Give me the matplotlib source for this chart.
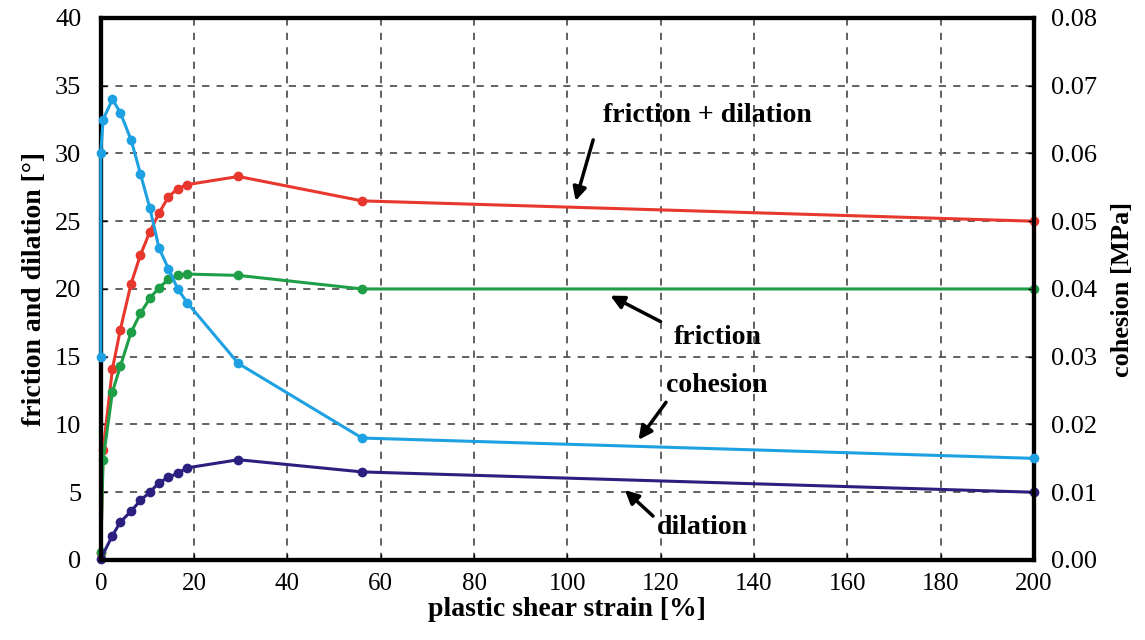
import numpy as np
import matplotlib.pyplot as plt

# plastic shear strain [%]
strain = [0, 0.5, 2.5, 4.2, 6.5, 8.5, 10.5, 12.5, 14.5, 16.5, 18.5, 29.5, 56, 200]

# friction + dilation [deg]
fric_dil = [0.5, 8.1, 14.1, 17.0, 20.4, 22.5, 24.2, 25.6, 26.8, 27.4, 27.7, 28.3, 26.5, 25.0]
# friction [deg]
friction = [0.6, 7.4, 12.4, 14.3, 16.8, 18.2, 19.3, 20.1, 20.7, 21.0, 21.1, 21.0, 20.0, 20.0]
# dilation [deg]
dil_strain = [0, 2.5, 4.2, 6.5, 8.5, 10.5, 12.5, 14.5, 16.5, 18.5, 29.5, 56, 200]
dilation = [0.1, 1.8, 2.8, 3.6, 4.4, 5.0, 5.7, 6.1, 6.4, 6.8, 7.4, 6.5, 5.0]
# cohesion [MPa]
coh_strain = [0, 0, 0.5, 2.5, 4.2, 6.5, 8.5, 10.5, 12.5, 14.5, 16.5, 18.5, 29.5, 56, 200]
cohesion = [0.030, 0.060, 0.065, 0.068, 0.066, 0.062, 0.057, 0.052, 0.046, 0.043, 0.040, 0.038, 0.029, 0.018, 0.015]

# annotations: text, text position, arrow tail, arrow head (left axis units)
labels = ["friction + dilation", "friction", "cohesion", "dilation"]
label_xy = [(130, 32.8), (132.3, 16.4), (132.0, 12.9), (129.0, 2.4)]
tail_xy = [(105.7, 31.2), (120.5, 17.5), (121.5, 11.8), (118.8, 3.1)]
head_xy = [(101.6, 26.3), (108.7, 19.6), (114.9, 8.7), (111.9, 5.3)]

plt.rcParams['font.family'] = ['Liberation Serif', 'DejaVu Serif']

fig = plt.figure(figsize=(11.45, 6.4), dpi=100)
ax = fig.add_axes([0.088, 0.125, 0.815, 0.847])
ax2 = ax.twinx()

red = '#e8372d'
green = '#1f9e48'
blue = '#1da1e2'
navy = '#2b1f7f'

ax.plot(strain, fric_dil, '-o', color=red, lw=2.2, ms=6, zorder=3, clip_on=False)
ax.plot(strain, friction, '-o', color=green, lw=2.2, ms=6, zorder=3, clip_on=False)
ax.plot(dil_strain, dilation, '-o', color=navy, lw=2.2, ms=6, zorder=3, clip_on=False)
ax2.plot(coh_strain, cohesion, '-o', color=blue, lw=2.2, ms=6, zorder=3, clip_on=False)

ax.set_xlim(0, 200)
ax.set_ylim(0, 40)
ax2.set_ylim(0, 0.08)
ax.set_xticks(np.arange(0, 201, 20))
ax.set_yticks(np.arange(0, 41, 5))
ax2.set_yticks(np.arange(0, 0.081, 0.01))
ax2.set_yticklabels([f"{v:.2f}" for v in np.arange(0, 0.081, 0.01)])

ax.grid(True, color='#555555', linestyle=(0, (4, 4)), lw=1.3)
for a in (ax, ax2):
    for s in a.spines.values():
        s.set_linewidth(3)
        s.set_color('black')
    a.tick_params(direction='in', length=4, width=1)
ax.tick_params(axis='y', labelsize=19, pad=14)
ax.tick_params(axis='x', labelsize=18, pad=9)
ax2.tick_params(axis='y', labelsize=19, pad=12)

ax.set_xlabel('plastic shear strain [%]', fontsize=20, fontweight='bold', labelpad=2)
ax.set_ylabel('friction and dilation [°]', fontsize=20, fontweight='bold', labelpad=6)
ax2.set_ylabel('cohesion [MPa]', fontsize=19, fontweight='bold', labelpad=10)

for txt, pos, tail, head in zip(labels, label_xy, tail_xy, head_xy):
    ax.text(pos[0], pos[1], txt, fontsize=20, fontweight='bold', ha='center', va='center')
    ax.annotate('', xy=head, xytext=tail,
                arrowprops=dict(arrowstyle='-|>', color='black', lw=2.5, mutation_scale=20))

fig.savefig('out.png', dpi=100)
